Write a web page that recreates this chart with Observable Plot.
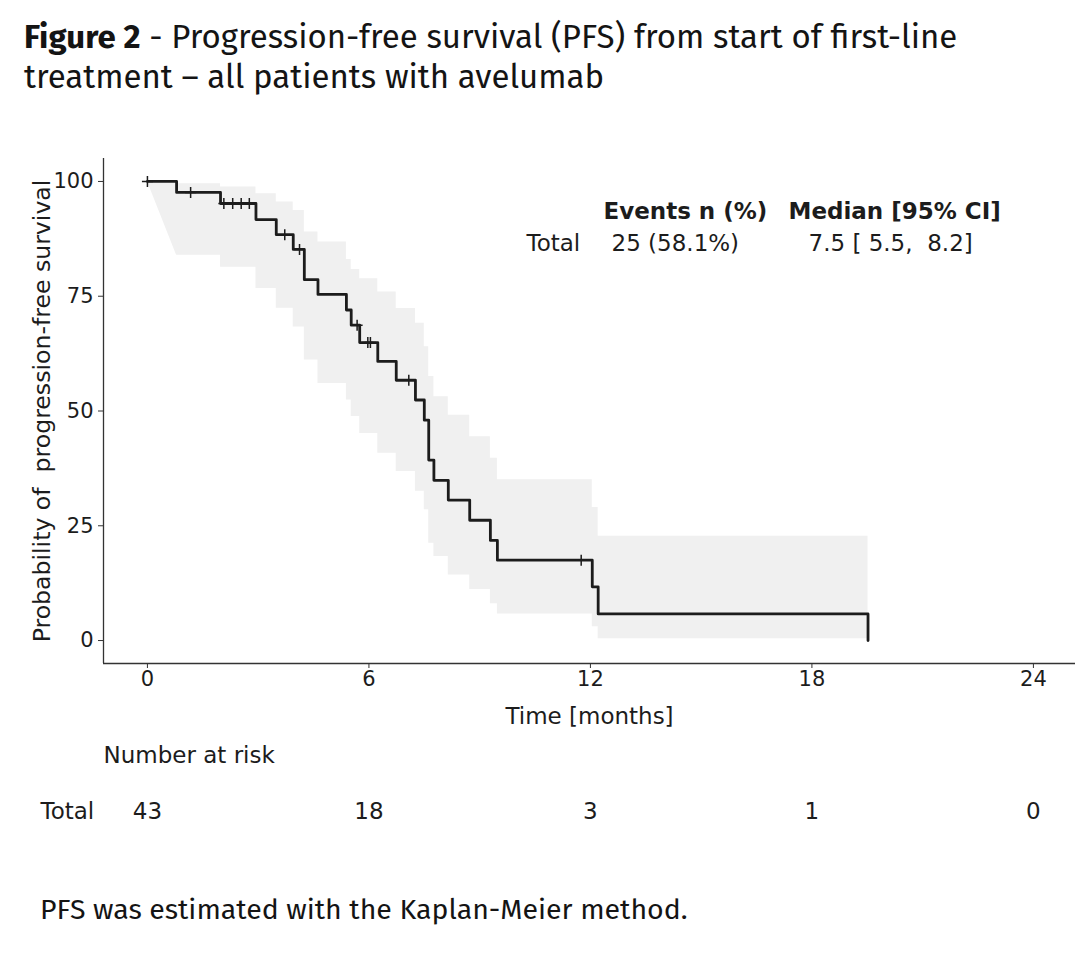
<!DOCTYPE html>
<html>
<head>
<meta charset="utf-8">
<script src="https://cdn.jsdelivr.net/npm/d3@7"></script>
<script src="https://cdn.jsdelivr.net/npm/@observablehq/plot@0.6"></script>
<style>
  html, body { margin: 0; padding: 0; background: #fff; }
  #page { position: relative; width: 1082px; height: 960px; overflow: hidden; background: #fff; }
  #title { position: absolute; left: 24px; top: 17px; font-family: "Fira Sans", Lato, "Open Sans", sans-serif; font-size: 33px; line-height: 40px; color: #141414; white-space: nowrap; }
  #title b { font-weight: 700; }
  #chart { position: absolute; left: 0; top: 120px; }
  #caption { position: absolute; left: 40px; top: 892px; font-family: "Fira Sans", Lato, "Open Sans", sans-serif; font-size: 28.5px; color: #141414; white-space: nowrap; }
  #chart svg text { white-space: pre; }
</style>
</head>
<body>
<div id="page">
  <div id="title"><b>Figure 2</b> - Progression-free survival (PFS) from start of first-line<br>treatment – all patients with avelumab</div>
  <div id="chart"></div>
  <div id="caption">PFS was estimated with the Kaplan-Meier method.</div>
</div>
<script>
// ---- data ----
const eventTimes = [0, 0.79, 1.98, 2.94, 3.49, 3.95, 4.25, 4.62, 5.39, 5.52, 5.75, 6.24, 6.74, 7.26, 7.50, 7.62, 7.76, 8.15, 8.73, 9.29, 9.48, 12.05, 12.21, 19.52];
const survival   = [100, 97.6, 95.2, 91.7, 88.4, 85.2, 78.6, 75.4, 72.0, 68.7, 64.9, 60.8, 56.7, 52.4, 48.0, 39.3, 34.9, 30.6, 26.2, 21.8, 17.5, 11.7, 5.8, 0];
const ciLower    = [100, 83.9, 81.3, 76.7, 72.4, 68.3, 61.1, 56.0, 52.4, 48.8, 45.1, 40.8, 36.8, 32.5, 28.5, 21.2, 18.3, 14.3, 11.1, 8.0, 5.8, 3.0, 0.4];
const ciUpper    = [100, 99.5, 98.8, 97.3, 95.5, 93.7, 89.0, 86.8, 83.0, 80.8, 78.8, 75.9, 72.3, 69.1, 64.0, 57.5, 53.1, 49.1, 44.4, 39.7, 35.0, 29.0, 22.7];

const censorTimes  = [0, 1.17, 2.07, 2.31, 2.54, 2.76, 3.72, 4.12, 5.68, 5.97, 6.04, 7.08, 11.75];
const censorValues = [100, 97.6, 95.2, 95.2, 95.2, 95.2, 88.4, 85.2, 68.7, 64.9, 64.9, 56.7, 17.5];

const xTicks = [0, 6, 12, 18, 24];
const yTicks = [0, 25, 50, 75, 100];
const xDomain = [-1.19, 25.14];
const yDomain = [-5, 105];

const riskTimes  = [0, 6, 12, 18, 24];
const riskCounts = [43, 18, 3, 1, 0];
const riskGroup  = "Total";

const tableHeaders = ["Events n (%)", "Median [95% CI]"];
const tableRow     = ["Total", "25 (58.1%)", "7.5 [ 5.5,  8.2]"];

const xLabel = "Time [months]";
const yLabel = "Probability of  progression-free survival";
const riskTitle = "Number at risk";

// ---- build tables for the marks ----
const curve = eventTimes.map((t, i) => ({t, s: survival[i]}));
const band = [];
band.push({t: eventTimes[0], lo: ciLower[0], hi: ciUpper[0]});
for (let i = 1; i < ciLower.length; i++) {
  band.push({t: eventTimes[i], lo: ciLower[i], hi: ciUpper[i]});
  band.push({t: eventTimes[i + 1], lo: ciLower[i], hi: ciUpper[i]});
}
const censors = censorTimes.map((t, i) => ({t, s: censorValues[i]}));
const risk = riskTimes.map((t, i) => ({t, n: String(riskCounts[i])}));

const plusSymbol = {
  draw(context, size) {
    const r = Math.sqrt(size / Math.PI);
    context.moveTo(-r, 0); context.lineTo(r, 0);
    context.moveTo(0, -r); context.lineTo(0, r);
  }
};

const ink = "#1c1c1c";
const txt = {fontSize: 23, fill: ink, lineAnchor: "middle"};
const chart = Plot.plot({
  width: 1082,
  height: 730,
  marginTop: 38,
  marginBottom: 187,
  marginLeft: 103,
  marginRight: 7,
  style: {fontFamily: "'DejaVu Sans', sans-serif", fontSize: "21px", color: ink, background: "#fff", overflow: "visible"},
  x: {domain: xDomain},
  y: {domain: yDomain},
  marks: [
    Plot.areaY(band, {x: "t", y1: "lo", y2: "hi", fill: "#f0f0f0", curve: "linear"}),
    Plot.line(curve, {x: "t", y: "s", curve: "step-after", stroke: ink, strokeWidth: 2.8}),
    Plot.dot(censors, {x: "t", y: "s", symbol: plusSymbol, r: 5.5, fill: "none", stroke: ink, strokeWidth: 1.5}),
    Plot.ruleX([xDomain[0]], {stroke: "#333", strokeWidth: 1.3}),
    Plot.ruleY([yDomain[0]], {stroke: "#333", strokeWidth: 1.3}),
    Plot.axisY({ticks: yTicks, tickSize: 5, tickPadding: 5, label: null, fontSize: 21, stroke: "#333"}),
    Plot.axisX({ticks: xTicks, tickSize: 5, tickPadding: 3, label: null, fontSize: 21, stroke: "#333"}),
    // axis titles
    Plot.text([xLabel], {...txt, frameAnchor: "bottom", dy: 53, text: d => d}),
    Plot.text([yLabel], {...txt, fontSize: 23.6, frameAnchor: "left", dx: -61, rotate: -90, textAnchor: "middle", text: d => d}),
    // summary table
    Plot.text([tableHeaders[0]], {...txt, frameAnchor: "top-left", dx: 500, dy: 53, text: d => d, textAnchor: "start", fontWeight: "bold"}),
    Plot.text([tableHeaders[1]], {...txt, frameAnchor: "top-left", dx: 685, dy: 53, text: d => d, textAnchor: "start", fontWeight: "bold"}),
    Plot.text([tableRow[0]], {...txt, frameAnchor: "top-left", dx: 423, dy: 85, text: d => d, textAnchor: "start"}),
    Plot.text([tableRow[1]], {...txt, frameAnchor: "top-left", dx: 508, dy: 85, text: d => d, textAnchor: "start"}),
    Plot.text([tableRow[2]], {...txt, frameAnchor: "top-left", dx: 705, dy: 85, text: d => d, textAnchor: "start"}),
    // number at risk
    Plot.text([riskTitle], {...txt, frameAnchor: "bottom-left", dx: 0, dy: 92, text: d => d, textAnchor: "start"}),
    Plot.text([riskGroup], {...txt, frameAnchor: "bottom-left", dx: -63, dy: 148, text: d => d, textAnchor: "start"}),
    Plot.text(risk, {...txt, x: "t", frameAnchor: "bottom", dy: 148, text: "n"})
  ]
});
document.getElementById("chart").appendChild(chart);
</script>
</body>
</html>
